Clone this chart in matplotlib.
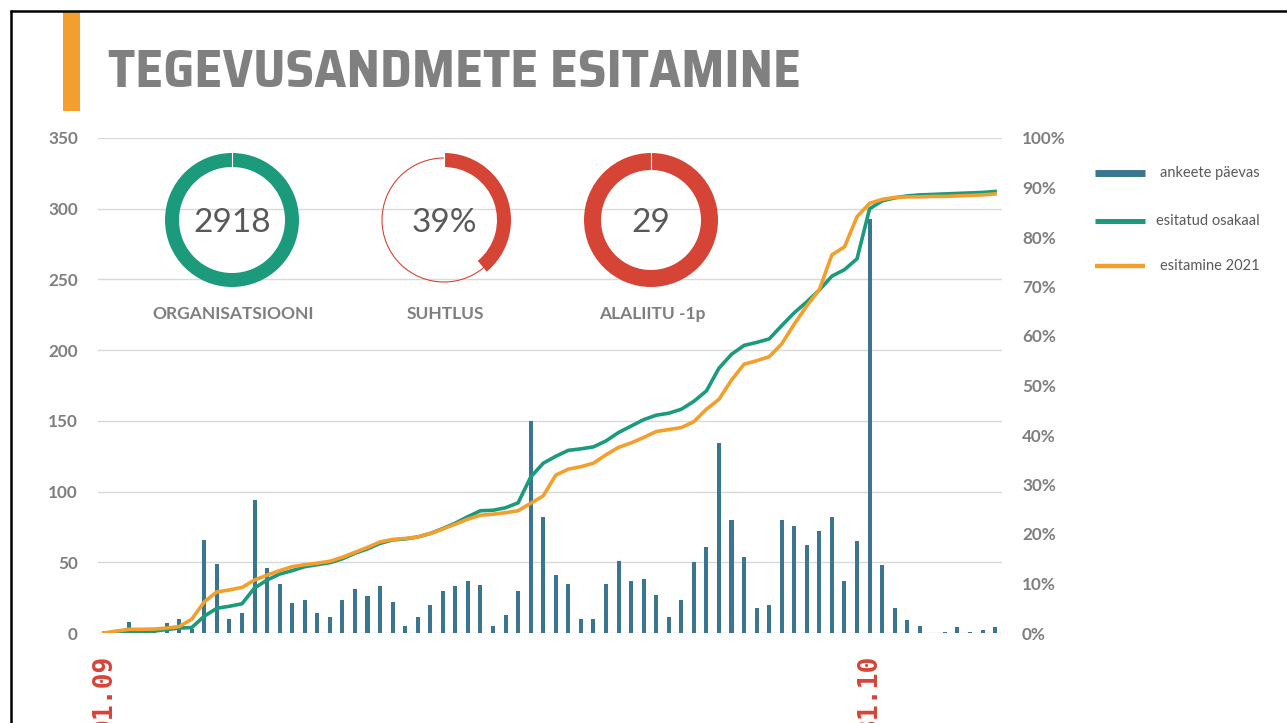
import numpy as np
import matplotlib
matplotlib.use("Agg")
import matplotlib.pyplot as plt
from matplotlib import font_manager as fm
from matplotlib.patches import Wedge, Rectangle, Circle

plt.rcParams['font.family'] = ['Lato', 'DejaVu Sans']

# forms submitted per day (bars, left axis)
daily = [0, 1, 8, 1, 2, 7, 10, 3,
         66, 49, 10, 14, 94, 46, 35, 21,
         23, 14, 11, 23, 31, 26, 33, 22,
         5, 11, 20, 30, 33, 37, 34, 5,
         13, 30, 150, 82, 41, 35, 10, 10,
         35, 51, 37, 38, 27, 11, 23, 50,
         61, 134, 80, 54, 18, 20, 80, 76,
         62, 72, 82, 37, 65, 293, 48, 18,
         9, 5, 0, 1, 4, 1, 2, 4]

# cumulative share submitted, % (right axis)
share = [0, 0.1, 0.3, 0.3, 0.4, 0.7, 1.0, 1.1,
         3.4, 5.0, 5.4, 5.9, 9.1, 10.7, 11.9, 12.6,
         13.4, 13.8, 14.2, 15.0, 16.1, 17.0, 18.1, 18.8,
         19.0, 19.4, 20.1, 21.1, 22.2, 23.5, 24.7, 24.8,
         25.3, 26.3, 31.5, 34.3, 35.7, 36.9, 37.2, 37.6,
         38.8, 40.5, 41.8, 43.1, 44.0, 44.4, 45.2, 46.8,
         48.9, 53.5, 56.3, 58.1, 58.7, 59.4, 62.1, 64.7,
         66.9, 69.3, 72.1, 73.4, 75.6, 85.7, 87.3, 87.9,
         88.3, 88.5, 88.6, 88.7, 88.8, 88.9, 89.0, 89.2]

# last year's cumulative share, %
share_2021 = [0, 0.4, 0.75, 0.75, 0.8, 1.0, 1.3, 2.8,
              6.3, 8.3, 8.7, 9.2, 10.7, 11.7, 12.6, 13.4,
              13.8, 14.1, 14.5, 15.3, 16.3, 17.3, 18.4, 18.9,
              19.1, 19.4, 20.1, 21.0, 22.0, 23.0, 23.8, 24.0,
              24.3, 24.7, 26.2, 27.7, 31.9, 33.1, 33.6, 34.3,
              36.0, 37.5, 38.4, 39.5, 40.7, 41.1, 41.5, 42.7,
              45.2, 47.2, 51.1, 54.3, 55.0, 55.8, 58.4, 62.4,
              66.1, 69.4, 76.4, 78.0, 84.1, 86.8, 87.6, 88.0,
              88.1, 88.1, 88.2, 88.2, 88.3, 88.4, 88.5, 88.7]

date_ticks = [0, 61]
date_labels = ["01.09", "31.10"]
left_ticks = list(range(0, 351, 50))
right_ticks = list(range(0, 101, 10))

kpi_values = ["2918", "39%", "29"]
kpi_labels = ["ORGANISATSIOONI", "SUHTLUS", "ALALIITU -1p"]
kpi_fill = [1.0, 0.39, 1.0]

legend_labels = ["ankeete päevas", "esitatud osakaal", "esitamine 2021"]

BLUE = "#3a768f"
GREEN = "#1b9a7c"
ORANGE = "#f29f2e"
RED = "#d64436"
GRAY = "#7f7f7f"
DARK = "#595959"
GRID = "#d9d9d9"

W, H = 1287, 723
fig = plt.figure(figsize=(W / 100, H / 100), dpi=100)

# main chart: bars on the left axis, shares on the right one
ax = fig.add_axes([98 / W, 1 - 633 / H, (1002 - 98) / W, (633 - 138) / H])
x = np.arange(len(daily))
ax.bar(x, daily, width=0.32, color=BLUE, zorder=2)
ax.set_xlim(-0.47, len(daily) - 0.45)
ax.set_ylim(0, 350)
ax.set_yticks(left_ticks)
ax.set_yticklabels([str(v) for v in left_ticks], fontweight='bold', fontsize=12.3, color=GRAY)
ax.grid(axis='y', color=GRID, lw=1.0)
ax.set_axisbelow(True)
ax.set_xticks(date_ticks)
ax.set_xticklabels(date_labels, rotation=90, family='DejaVu Sans Mono',
                   fontweight='bold', fontsize=19, color=RED)
ax.tick_params(axis='both', length=0)
ax.tick_params(axis='y', pad=14.4)
ax.tick_params(axis='x', pad=15.5)
for s in ax.spines.values():
    s.set_visible(False)

ax2 = ax.twinx()
ax2.plot(x, share, color=GREEN, lw=2.6, zorder=3)
ax2.plot(x, share_2021, color=ORANGE, lw=2.6, zorder=4)
ax2.set_ylim(0, 100)
ax2.set_yticks(right_ticks)
ax2.set_yticklabels([f"{v}%" for v in right_ticks], fontweight='bold', fontsize=12.3, color=GRAY)
ax2.tick_params(axis='y', length=0, pad=14.4)
for s in ax2.spines.values():
    s.set_visible(False)

# overlay in pixel coordinates for slide decorations
ov = fig.add_axes([0, 0, 1, 1], zorder=5)
ov.set_xlim(0, W)
ov.set_ylim(H, 0)
ov.axis('off')
ov.patch.set_alpha(0)

ov.plot([10, W], [10.5, 10.5], color='black', lw=1.8, solid_capstyle='butt')
ov.plot([10.5, 10.5], [10, H], color='black', lw=1.8, solid_capstyle='butt')
ov.add_patch(Rectangle((63, 11), 17, 100, color=ORANGE, lw=0))

# title: an upright narrow bold sans face whose proportions best fit the slide title
TITLE = "TEGEVUSANDMETE ESITAMINE"
cands = {f.fname for f in fm.fontManager.ttflist
         if ('Narrow' in f.name or 'Condensed' in f.name or f.stretch in ('condensed', 'semi-condensed'))
         and str(f.weight) in ('bold', '700') and 'Mono' not in f.name and f.style == 'normal'}
fonts = [fm.FontProperties(fname=fn) for fn in sorted(cands)]
fonts.append(fm.FontProperties(family='Liberation Sans', weight='bold'))
renderer = fig.canvas.get_renderer()
best, best_w = None, None
for fp in fonts:
    t = ov.text(0, 0, TITLE, fontproperties=fp, fontsize=35)
    w = t.get_window_extent(renderer).width
    t.remove()
    if best_w is None or abs(w - 640) < abs(best_w - 640):
        best, best_w = fp, w
title = ov.text(108, 87, TITLE, fontproperties=best, color='#808080', ha='left', va='baseline')
title.set_fontsize(35 * 692 / best_w)

# KPI rings
centers = [(232, 220), (444, 220), (651, 220)]
ring_cols = [GREEN, RED, RED]
ring_w = [14, 14, 17]
for (cx, cy), val, lab, frac, col, rw in zip(centers, kpi_values, kpi_labels, kpi_fill, ring_cols, ring_w):
    if frac < 1:
        ov.add_patch(Circle((cx, cy), 62, fill=False, color=col, lw=0.8))
    ov.add_patch(Wedge((cx, cy), 67, -90, -90 + 360 * frac, width=rw, color=col, lw=0))
    ov.plot([cx, cx], [cy - 67, cy - 67 + rw], color='white', lw=0.8)
    ov.text(cx, cy + 12, val, ha='center', va='baseline', fontsize=24, color=DARK)
    ov.text(cx + 1, 314, lab, ha='center', va='center', fontsize=12.5, fontweight='bold', color=GRAY)

# legend
leg_y = [173, 221, 266]
leg_cols = [BLUE, GREEN, ORANGE]
leg_lw = [5.0, 3.6, 3.2]
for lab, y, col, lw in zip(legend_labels, leg_y, leg_cols, leg_lw):
    ov.plot([1095, 1145], [y, y], color=col, lw=lw, solid_capstyle='butt')
    ov.text(1260, y, lab, ha='right', va='center', fontsize=10.5, color=DARK)

fig.savefig("out.png", dpi=100)
